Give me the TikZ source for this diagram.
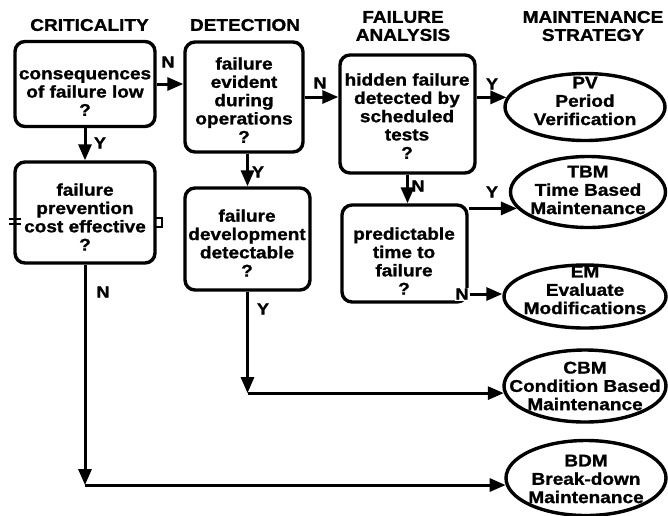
\documentclass[tikz,border=0pt]{standalone}
\usepackage{fontspec}
\setmainfont[FakeStretch=1.12,FakeBold=1.2]{Liberation Sans}
\usetikzlibrary{arrows.meta,shapes.geometric}
\begin{document}
\begin{tikzpicture}[x=1pt,y=-1pt,
  qbox/.style={draw, line width=3.4pt, rounded corners=10pt, inner sep=0pt},
  txt/.style={align=center, font=\bfseries\fontsize{17}{18.3}\selectfont, inner sep=0pt},
  strat/.style={draw, ellipse, line width=3.4pt, inner sep=0pt},
  arr/.style={line width=3pt, -{Triangle[length=16pt,width=13pt]}},
  mk/.style={line width=1.8pt},
  lab/.style={font=\bfseries\fontsize{16}{16}\selectfont, inner sep=0pt},
  head/.style={align=center, font=\bfseries\fontsize{17}{18}\selectfont, inner sep=0pt}]
\useasboundingbox (0,0) rectangle (668,515);

% headers
\node[head] (h1) at (89.5,25) {CRITICALITY};
\node[head] (h2) at (245,25) {DETECTION};
\node[head] (h3) at (403,26) {FAILURE\\ANALYSIS};
\node[head] (h4) at (593,26) {MAINTENANCE\\STRATEGY};

% decision boxes
\node[qbox, minimum width=140pt, minimum height=85pt] (b1) at (85,84) {};
\node[qbox, minimum width=140pt, minimum height=101pt] (b2) at (85,212.5) {};
\node[qbox, minimum width=118pt, minimum height=110pt] (b3) at (244,97) {};
\node[qbox, minimum width=125pt, minimum height=102pt] (b4) at (247.5,239) {};
\node[qbox, minimum width=135pt, minimum height=118pt] (b5) at (407.5,114) {};
\node[qbox, minimum width=125pt, minimum height=97pt] (b6) at (404.5,253.5) {};

\node[txt] (t1) at (85,93) {consequences\\of failure low\\?};
\node[txt] (t2) at (85,217) {failure\\prevention\\cost effective\\?};
\node[txt] (t3) at (244,100) {failure\\evident\\during\\operations\\?};
\node[txt] (t4) at (247,243) {failure\\development\\detectable\\?};
\node[txt] (t5) at (407,116) {hidden failure\\detected by\\scheduled\\tests\\?};
\node[txt] (t6) at (404,261) {predictable\\time to\\failure\\?};

% small marks on b2
\draw[mk] (9,219) -- (21,219);
\draw[mk] (9,224) -- (21,224);
\draw[mk] (155,218) rectangle (162,227);

% strategies
\node[strat, minimum width=160pt, minimum height=67pt] (pv) at (585,107) {};
\node[strat, minimum width=155pt, minimum height=71pt] (tbm) at (588,192) {};
\node[strat, minimum width=162pt, minimum height=63pt] (em) at (585,296.5) {};
\node[strat, minimum width=162pt, minimum height=72pt] (cbm) at (585,386) {};
\node[strat, minimum width=160pt, minimum height=75pt] (bdm) at (586,478) {};

\node[txt] (s1) at (585,101) {PV\\Period\\Verification};
\node[txt] (s2) at (588,190) {TBM\\Time Based\\Maintenance};
\node[txt] (s3) at (585,290) {EM\\Evaluate\\Modifications};
\node[txt] (s4) at (585,386) {CBM\\Condition Based\\Maintenance};
\node[txt] (s5) at (586,479) {BDM\\Break-down\\Maintenance};

% connectors
\draw[arr] (b1.east) -- (b1.east -| b3.west);
\node[lab] (l1) at (168,62) {N};
\draw[arr] (b1.south) -- (b2.north);
\node[lab] (l2) at (100,143) {Y};
\draw[arr] (b3.east) -- (b3.east -| b5.west);
\node[lab] (l3) at (320,83) {N};
\draw[arr] (b4.north |- b3.south) -- (b4.north);
\node[lab] (l4) at (258,172) {Y};
\draw[arr] (b5.east |- pv.173) -- (pv.173);
\node[lab] (l5) at (492,84) {Y};
\draw[arr] (b5.south) -- (b5.south |- b6.north);
\node[lab] (l6) at (418,186) {N};
\draw[arr] (b6.east |- tbm.193) -- (tbm.193);
\node[lab] (l7) at (492,192) {Y};
\node[lab, fill=white, inner sep=1pt] (nb) at (462,294) {N};
\draw[arr] (nb.east) -- (em.west |- nb.east);

\coordinate (k1) at (b4.south |- cbm.185);
\draw[arr] (b4.south) -- (k1);
\draw[arr] (k1) -- (cbm.185);
\node[lab] (l8) at (263,309) {Y};

\coordinate (k2) at (b2.south |- bdm.185);
\draw[arr] (b2.south) -- (k2);
\draw[arr] (k2) -- (bdm.185);
\node[lab] (l9) at (103,292) {N};
\end{tikzpicture}
\end{document}
